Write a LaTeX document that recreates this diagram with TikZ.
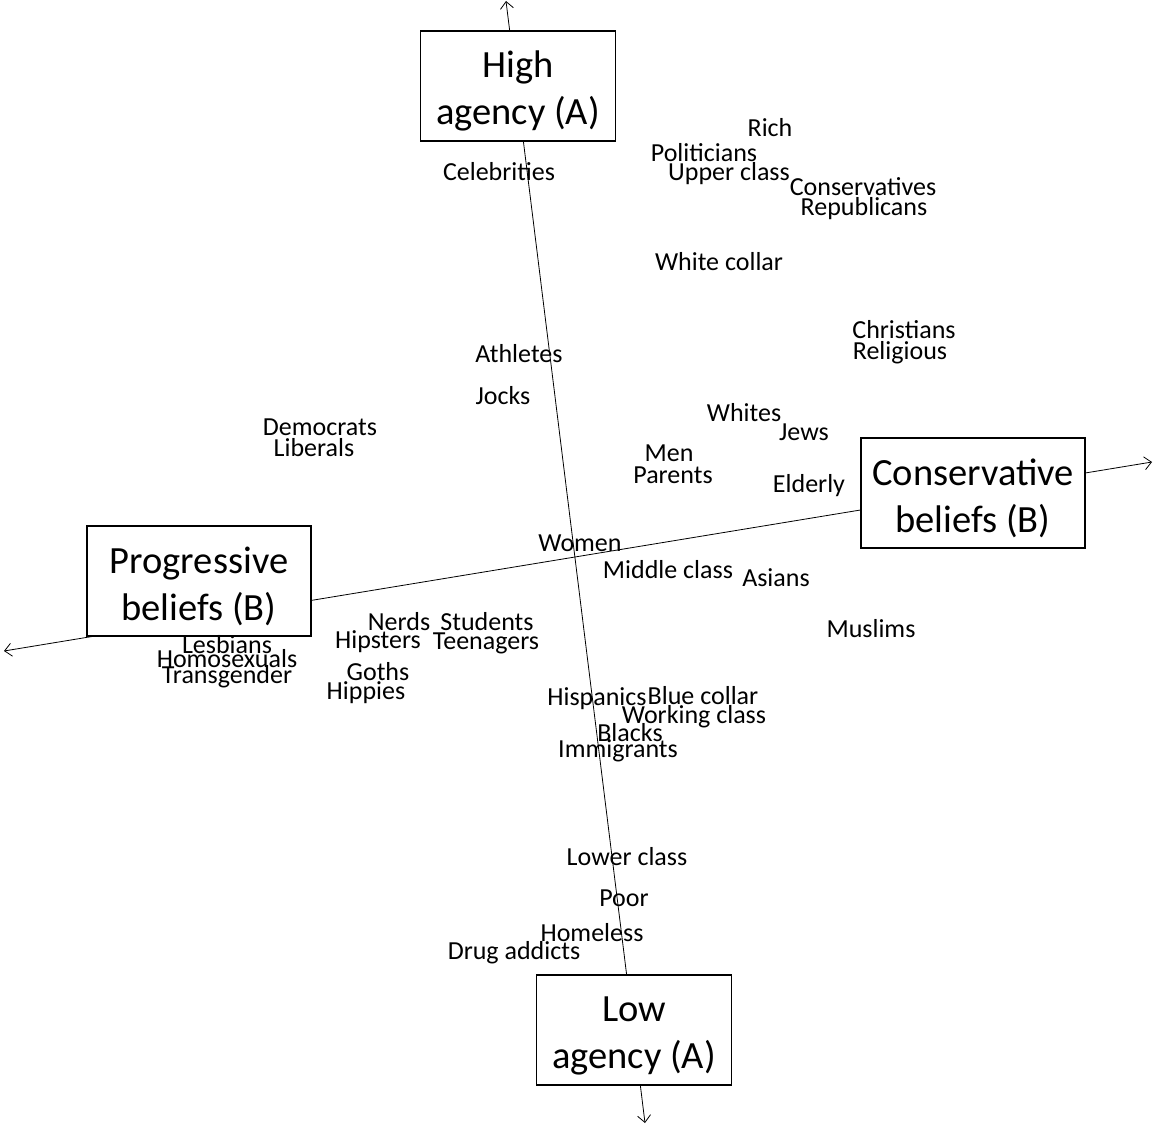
\documentclass[tikz,border=0pt]{standalone}
\usepackage{fontspec}
\setmainfont{Carlito}
\usetikzlibrary{arrows.meta}
\newcommand{\topstrut}{\rule{0pt}{37pt}}

\begin{document}
\begin{tikzpicture}[x=1pt,y=-1pt,every path/.style={>={Straight Barb[length=7pt,width=13pt]}},
  box/.style={draw,line width=1.8pt,fill=white,align=center,minimum width=195pt,minimum height=110pt,
    inner sep=0pt,font=\fontsize{38.5}{47}\selectfont},
  lbl/.style={inner sep=0pt,text height=17.5pt,text depth=0pt,font=\fontsize{26}{26}\selectfont}]
\useasboundingbox (0,0) rectangle (1154,1124);
% axis ends
\coordinate (top)   at (506,1);
\coordinate (bot)   at (645,1123);
\coordinate (left)  at (4,651);
\coordinate (right) at (1152,462);
\draw[<->,line width=0.8pt] (top) -- (bot);
\draw[<->,line width=0.8pt] (left) -- (right);
% axis boxes
\node[box]                      (hi)  at (518,86)   {\topstrut High\\agency (A)};
\node[box]                      (lo)  at (634,1030) {\topstrut Low\\agency (A)};
\node[box,minimum width=224pt]  (pro) at (199,581)  {\topstrut Progressive\\beliefs (B)};
\node[box,minimum width=224pt]  (con) at (973,493)  {\topstrut Conservative\\beliefs (B)};
% groups
\node[lbl] (rich)   at (770,128) {Rich};
\node[lbl] (pol)    at (704,153) {Politicians};
\node[lbl] (upper)  at (729,172) {Upper class};
\node[lbl] (cons)   at (863,187) {Conservatives};
\node[lbl] (rep)    at (864,207) {Republicans};
\node[lbl] (celeb)  at (499,172) {Celebrities};
\node[lbl] (white)  at (719,262) {White collar};
\node[lbl] (chr)    at (904,330) {Christians};
\node[lbl] (rel)    at (900,351) {Religious};
\node[lbl] (ath)    at (519,354) {Athletes};
\node[lbl] (jocks)  at (503,396) {Jocks};
\node[lbl] (dem)    at (320,427) {Democrats};
\node[lbl] (lib)    at (314,448) {Liberals};
\node[lbl] (whites) at (744,413) {Whites};
\node[lbl] (jews)   at (804,432) {Jews};
\node[lbl] (men)    at (669,453) {Men};
\node[lbl] (par)    at (673,475) {Parents};
\node[lbl] (eld)    at (809,484) {Elderly};
\node[lbl] (women)  at (580,543) {Women};
\node[lbl] (mid)    at (668,570) {Middle class};
\node[lbl] (asi)    at (776,578) {Asians};
\node[lbl] (mus)    at (871,629) {Muslims};
\node[lbl] (nerds)  at (399,622) {Nerds};
\node[lbl] (stud)   at (487,622) {Students};
\node[lbl] (hip)    at (378,640) {Hipsters};
\node[lbl] (teen)   at (486,641) {Teenagers};
\node[lbl] (les)    at (227,645) {Lesbians};
\node[lbl] (homo)   at (227,659) {Homosexuals};
\node[lbl] (trans)  at (227,675) {Transgender};
\node[lbl] (goths)  at (378,672) {Goths};
\node[lbl] (hippie) at (366,691) {Hippies};
\node[lbl] (hisp)   at (597,697) {Hispanics};
\node[lbl] (blue)   at (703,696) {Blue collar};
\node[lbl] (work)   at (694,715) {Working class};
\node[lbl] (blacks) at (630,733) {Blacks};
\node[lbl] (imm)    at (618,749) {Immigrants};
\node[lbl] (lower)  at (627,857) {Lower class};
\node[lbl] (poor)   at (624,898) {Poor};
\node[lbl] (homel)  at (592,933) {Homeless};
\node[lbl] (drug)   at (514,951) {Drug addicts};
\end{tikzpicture}
\end{document}
